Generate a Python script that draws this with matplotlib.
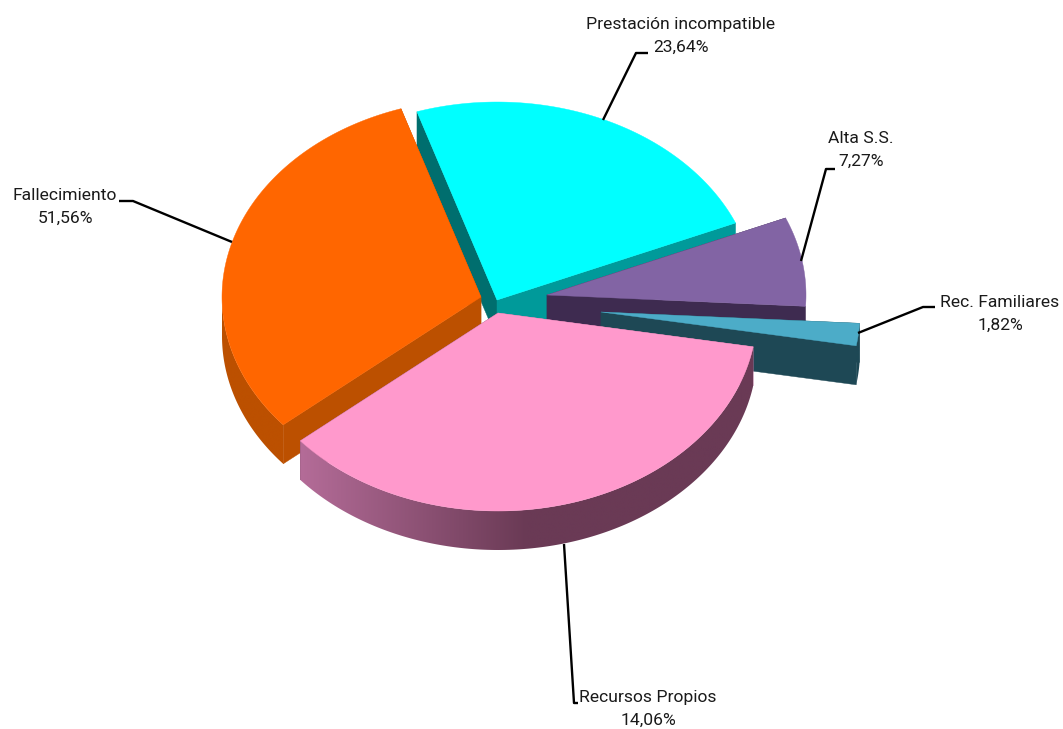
import numpy as np
import matplotlib
matplotlib.use("Agg")
import matplotlib.pyplot as plt
from matplotlib.colors import to_rgb, LinearSegmentedColormap
from matplotlib.patches import Polygon

plt.rcParams['font.family'] = ['Roboto', 'Liberation Sans', 'DejaVu Sans']

# clockwise from the top of the cyan slice
LABELS = ['Prestación incompatible', 'Alta S.S.', 'Rec. Familiares', 'Recursos Propios', 'Fallecimiento']
PRINTED = ['23,64%', '7,27%', '1,82%', '14,06%', '51,56%']
# size of each slice as drawn (the printed numbers of the two big ones do not fit their slices)
SHARES = [23.64, 7.27, 1.82, 36.10, 31.17]

START_ANGLE = 108.0
RX, RY = 259, 198
DEPTH = 39

APEX = [(497, 300), (547, 295), (601, 312), (498, 313), (481, 297)]
TOP_COLORS = ['#00ffff', '#8264a4', '#4cacc8', '#ff99cc', '#ff6600']
START_WALL = ['#006e6e', '#3e2b50', '#1e4855', '#b06a94', '#bc5000']
END_WALL = ['#009a9a', '#3e2b50', '#1e4855', '#6a3a55', '#bc5000']
OUTER_LEFT = ['#009a9a', '#3e2b50', '#1e4855', '#b46c98', '#bc5000']
OUTER_RIGHT = ['#009a9a', '#3e2b50', '#1e4855', '#6a3a55', '#bc5000']
# orange has to go under the pink slice
DRAW_ORDER = [0, 1, 2, 4, 3]

LABEL_POS = [(681, 36), (861, 150), (1000, 314), (648, 709), (65, 207)]
LEADERS = [
    [(603, 120), (636, 53), (648, 53)],
    [(801, 261), (826, 169), (835, 169)],
    [(858, 333), (923, 307), (935, 307)],
    [(564, 544), (574, 703), (578, 703)],
    [(232, 242), (133, 201), (119, 201)],
]


def arc(apex, t0, t1, n=160):
    t = np.radians(np.linspace(t0, t1, n))
    return np.column_stack((apex[0] + RX * np.cos(t), apex[1] - RY * np.sin(t)))


def radial_wall(ax, apex, t, color, z):
    edge = arc(apex, t, t, 1)[0]
    pts = [apex, edge, (edge[0], edge[1] + DEPTH), (apex[0], apex[1] + DEPTH)]
    ax.add_patch(Polygon(pts, closed=True, fc=color, ec=color, lw=0.3, zorder=z))


def outer_wall(ax, apex, t0, t1, left, right, z):
    # only the part on the lower half of the ellipse can be seen
    for shift in [360.0, 0.0, -360.0]:
        hi_t, lo_t = min(t0 + shift, 0.0), max(t1 + shift, -180.0)
        if hi_t <= lo_t:
            continue
        pts = arc(apex, hi_t, lo_t)
        wall = np.vstack((pts, pts[::-1] + (0, DEPTH)))
        x0, x1 = wall[:, 0].min(), wall[:, 0].max()
        y0, y1 = wall[:, 1].min(), wall[:, 1].max()
        cmap = LinearSegmentedColormap.from_list('wall', [to_rgb(left), to_rgb(right), to_rgb(right)])
        grad = np.linspace(0, 1, 256).reshape(1, -1)
        im = ax.imshow(grad, cmap=cmap, extent=(x0, x1, y1, y0), aspect='auto', zorder=z)
        clip = Polygon(wall, closed=True, transform=ax.transData)
        im.set_clip_path(clip)


fig = plt.figure(figsize=(10.63, 7.29), dpi=100)
ax = fig.add_axes([0, 0, 1, 1])

starts = START_ANGLE - np.concatenate(([0], np.cumsum(SHARES)[:-1])) * 3.6
for i in DRAW_ORDER:
    t0 = starts[i]
    t1 = t0 - SHARES[i] * 3.6
    z = 2 + DRAW_ORDER.index(i) * 2
    radial_wall(ax, APEX[i], t0, START_WALL[i], z)
    radial_wall(ax, APEX[i], t1, END_WALL[i], z)
    outer_wall(ax, APEX[i], t0, t1, OUTER_LEFT[i], OUTER_RIGHT[i], z)
    top = np.vstack(([APEX[i]], arc(APEX[i], t0, t1)))
    ax.add_patch(Polygon(top, closed=True, fc=TOP_COLORS[i], ec=TOP_COLORS[i], lw=0.3, zorder=z + 1))

for i in range(len(LABELS)):
    xs, ys = zip(*LEADERS[i])
    ax.plot(xs, ys, color='black', lw=1.7, solid_capstyle='butt', zorder=20)
    ax.text(LABEL_POS[i][0], LABEL_POS[i][1], LABELS[i] + "\n" + PRINTED[i], ha='center', va='center',
            fontsize=12.6, color='#1a1a1a', linespacing=1.6, zorder=21)

ax.set_xlim(0, 1063)
ax.set_ylim(729, 0)
ax.axis('off')

fig.savefig("out.png", dpi=100)
